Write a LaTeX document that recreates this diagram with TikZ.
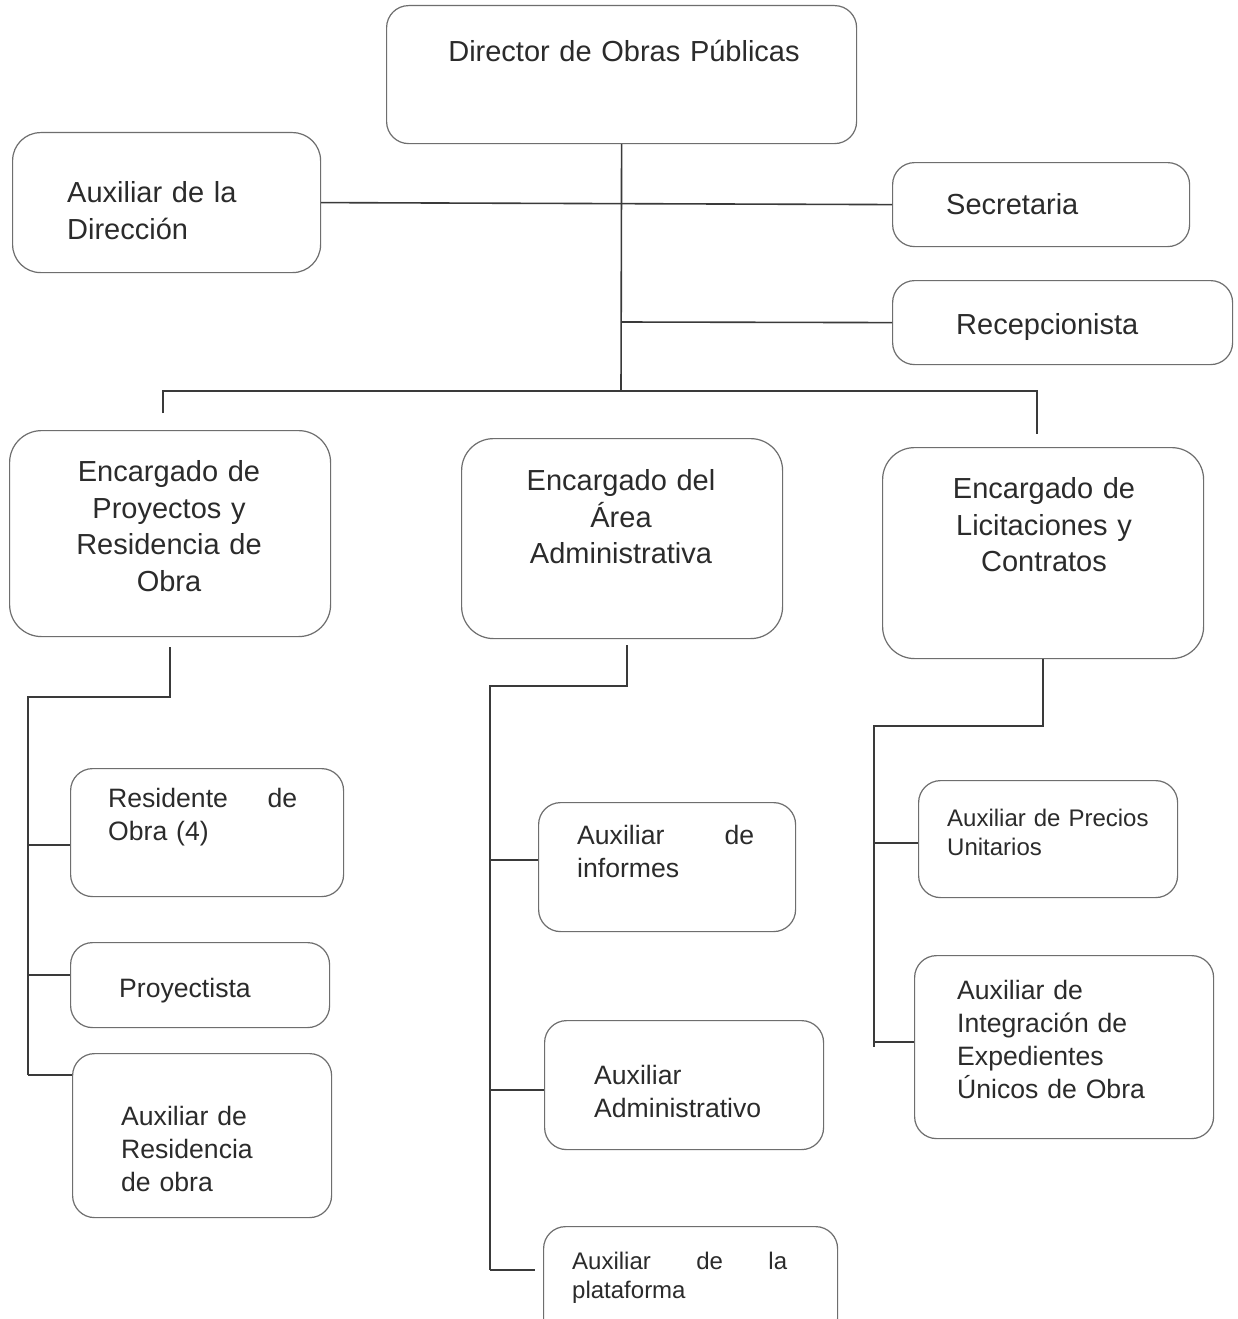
\documentclass[tikz,border=0pt]{standalone}
\usepackage{fontspec}
\setmainfont{Liberation Sans}
\usetikzlibrary{positioning}

\definecolor{boxgray}{HTML}{6E6E6E}
\definecolor{linegray}{HTML}{3A3A3A}
\definecolor{txtgray}{HTML}{2B2B2B}

\begin{document}
\begin{tikzpicture}[
    x=1pt, y=-1pt,
    box/.style={draw=boxgray, line width=1.2pt, rounded corners=22pt, anchor=north west, inner sep=0pt},
    bigbox/.style={box, rounded corners=32pt},
    line/.style={draw=linegray, line width=1.6pt},
    tl/.style={anchor=north west, inner sep=0pt, align=left, text width=#1, text=txtgray},
    tl/.default=320pt,
    tc/.style={anchor=north, inner sep=0pt, align=center, text width=#1, text=txtgray},
    tc/.default=320pt,
    f1/.style={font=\fontsize{29}{36.5}\selectfont},
    f2/.style={font=\fontsize{26.6}{33}\selectfont},
    f3/.style={font=\fontsize{24}{29.5}\selectfont}
]
\useasboundingbox[fill=white] (0,0) rectangle (1238,1319);

% Top: director and staff
\node[box, minimum width=470pt, minimum height=138pt] (dir) at (386,5) {};
\node[tc=460pt, f1] (dir-t) at (624,39.5) {Director de Obras Públicas};

\node[box, rounded corners=28pt, minimum width=308pt, minimum height=140pt] (auxdir) at (12,132) {};
\node[tl, f1] (auxdir-t) at (67,181.5) {Auxiliar de la\\Dirección};

\node[box, minimum width=297pt, minimum height=84pt] (sec) at (892,162) {};
\node[tl, f1] (sec-t) at (946,193.5) {Secretaria};

\node[box, minimum width=340pt, minimum height=84pt] (recep) at (892,280) {};
\node[tl, f1] (recep-t) at (956,313.5) {Recepcionista};

% Second level: the three areas
\node[bigbox, minimum width=321pt, minimum height=206pt] (proy) at (9,430) {};
\node[tc, f1] (proy-t) at (169,460.5) {Encargado de\\Proyectos y\\Residencia de\\Obra};

\node[bigbox, minimum width=321pt, minimum height=200pt] (admin) at (461,438) {};
\node[tc, f1] (admin-t) at (621,469.5) {Encargado del\\Área\\Administrativa};

\node[bigbox, minimum width=321pt, minimum height=211pt] (lic) at (882,447) {};
\node[tc, f1] (lic-t) at (1044,477.5) {Encargado de\\Licitaciones y\\Contratos};

% Left column
\node[box, minimum width=273pt, minimum height=128pt] (res) at (70,768) {};
\node[tl=189pt, f2] (res-t) at (108,788.5) {Residente\hfill de\\Obra (4)};

\node[box, minimum width=259pt, minimum height=85pt] (proyectista) at (70,942) {};
\node[tl, f2] (proyectista-t) at (119,978.5) {Proyectista};

\node[box, minimum width=259pt, minimum height=164pt] (auxres) at (72,1053) {};
\node[tl, f2] (auxres-t) at (121,1106.5) {Auxiliar de\\Residencia\\de obra};

% Middle column
\node[box, minimum width=257pt, minimum height=129pt] (inf) at (538,802) {};
\node[tl=177pt, f2] (inf-t) at (577,825.5) {Auxiliar\hfill de\\informes};

\node[box, minimum width=279pt, minimum height=129pt] (auxadm) at (544,1020) {};
\node[tl, f2] (auxadm-t) at (594,1065.5) {Auxiliar\\Administrativo};

\node[box, minimum width=294pt, minimum height=114pt] (plat) at (543,1226) {};
\node[tl=215pt, f3] (plat-t) at (572,1251.5) {Auxiliar\hfill de\hfill la\\plataforma};

% Right column
\node[box, minimum width=259pt, minimum height=117pt] (prec) at (918,780) {};
\node[tl, f3] (prec-t) at (947,808.5) {Auxiliar de Precios\\Unitarios};

\node[box, minimum width=299pt, minimum height=183pt] (integ) at (914,955) {};
\node[tl, f2] (integ-t) at (957,980.5) {Auxiliar de\\Integración de\\Expedientes\\Únicos de Obra};

% Connectors
\coordinate (hub) at (621,391);
\coordinate (rj) at (621,322);
\coordinate (dropL) at (163,413);
\coordinate (dropR) at (1037,434);
\draw[line] (dir.south) -- (hub);
\draw[line] (auxdir.east) -- (sec.west);
\draw[line] (rj) -- (recep.west);
\draw[line] (dropL) -- (dropL |- hub) -- (dropR |- hub) -- (dropR);

\coordinate (pL) at (170,647);
\coordinate (colL) at (28,697);
\coordinate (colLend) at (28,1075);
\draw[line] (pL) |- (colL) -- (colLend);
\draw[line] (colL |- 0,845) -- (res.west |- 0,845);
\draw[line] (colL |- 0,975) -- (proyectista.west |- 0,975);
\draw[line] (colLend) -- (auxres.west |- colLend);

\coordinate (pM) at (627,645);
\coordinate (colM) at (490,686);
\coordinate (colMend) at (490,1270);
\draw[line] (pM) |- (colM) -- (colMend);
\draw[line] (colM |- 0,860) -- (inf.west |- 0,860);
\draw[line] (colM |- 0,1090) -- (auxadm.west |- 0,1090);
\draw[line] (colMend) -- ([xshift=-8pt]plat.west |- colMend);

\coordinate (colR) at (874,726);
\coordinate (colRend) at (874,1047);
\draw[line] (lic.south) |- (colR) -- (colRend);
\draw[line] (colR |- 0,843) -- (prec.west |- 0,843);
\draw[line] (colR |- 0,1042) -- (integ.west |- 0,1042);

\end{tikzpicture}
\end{document}
